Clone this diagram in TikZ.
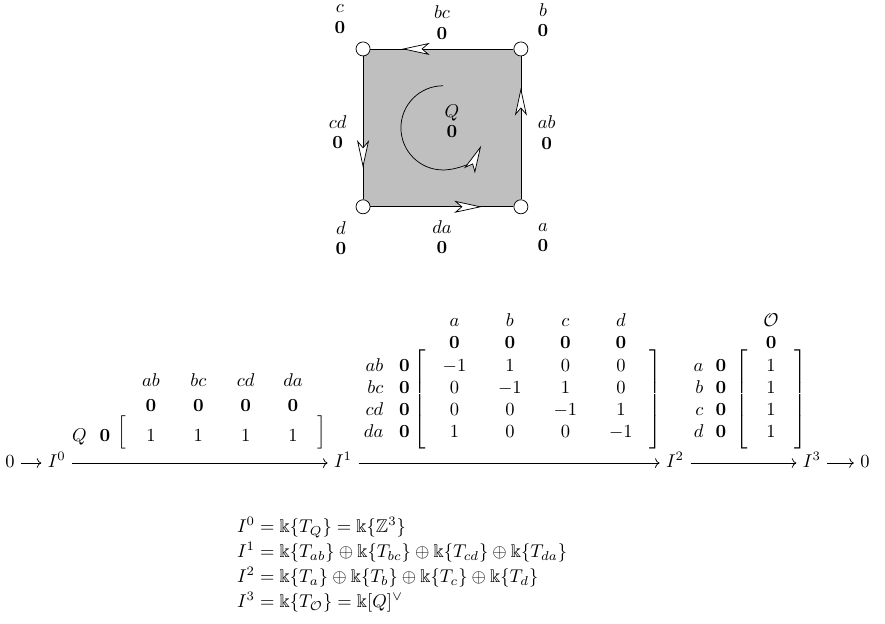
\documentclass[tikz,border=0pt]{standalone}
\usepackage{amsmath,amssymb}
\usetikzlibrary{arrows.meta,decorations.markings,matrix,fit,positioning}

\newcommand{\deglab}[1]{$#1$\\[-1pt]$\mathbf{0}$}

\tikzset{
  vert/.style={circle,draw,fill=white,inner sep=0pt,minimum size=7.6pt},
  wtip/.tip={Stealth[fill=white,length=15pt,width=6.5pt,inset=3.8pt]},
  quiv/.style={postaction={decorate},
    decoration={markings,mark=at position 0.78 with {\arrow{wtip}}}},
  lab/.style={align=center,inner sep=0pt},
  chain/.style={text height=8pt,text depth=3pt},
  mat/.style={matrix of math nodes,inner sep=0pt,row sep=0pt,column sep=0pt,
    nodes={anchor=base,inner xsep=0pt,inner ysep=1pt,text height=7.5pt,
      text depth=2.5pt,minimum width=#1},
    column 1/.style={nodes={anchor=base east,minimum width=0pt}}},
  brk/.style={inner xsep=-1.2pt,inner ysep=#1,
    left delimiter={[},right delimiter={]}}
}

\begin{document}
\begin{tikzpicture}
\useasboundingbox (-8.40,-9.42) rectangle (8.42,2.43);

% the square
\fill[gray!50] (-1.5,-1.5) rectangle (1.5,1.5);
\node[vert] (a) at (1.5,-1.5) {};
\node[vert] (b) at (1.5,1.5) {};
\node[vert] (c) at (-1.5,1.5) {};
\node[vert] (d) at (-1.5,-1.5) {};
\draw[quiv] (a) -- (b);
\draw[quiv] (b) -- (c);
\draw[quiv] (c) -- (d);
\draw[quiv] (d) -- (a);
\draw[-wtip] (0.02,0.8) arc (90:335:0.8);

\node[lab] (la) at (1.92,-2.08) {\deglab{a}};
\node[lab] (lb) at (1.92,2.05) {\deglab{b}};
\node[lab] (lc) at (-1.94,2.07) {\deglab{c}};
\node[lab] (ld) at (-1.92,-2.09) {\deglab{d}};
\node[lab] (lab) at (1.99,-0.09) {\deglab{ab}};
\node[lab] (lbc) at (0.0,2.0) {\deglab{bc}};
\node[lab] (lcd) at (-1.98,-0.08) {\deglab{cd}};
\node[lab] (lda) at (0.0,-2.07) {\deglab{da}};
\node[lab] (lQ) at (0.19,0.13) {\deglab{Q}};

% the complex
\node[chain] (z0) at (-8.21,-6.37) {$0$};
\node[chain] (I0) at (-7.32,-6.37) {$I^0$};
\node[chain] (I1) at (-1.88,-6.37) {$I^1$};
\node[chain] (I2) at (4.43,-6.37) {$I^2$};
\node[chain] (I3) at (7.03,-6.37) {$I^3$};
\node[chain] (z1) at (8.04,-6.37) {$0$};
\draw[->] (z0) -- (I0);
\draw[->] (I0) -- (I1) coordinate[midway] (m01);
\draw[->] (I1) -- (I2) coordinate[midway] (m12);
\draw[->] (I2) -- (I3) coordinate[midway] (m23);
\draw[->] (I3) -- (z1);

\matrix (M0) [mat=25.6pt,above=8pt of m01,xshift=-3pt] {
  &[9pt] ab & bc & cd & da \\[1.5pt]
  &[9pt] \mathbf{0} & \mathbf{0} & \mathbf{0} & \mathbf{0} \\[4pt]
  Q\hspace{7pt}\mathbf{0} &[9pt] 1 & 1 & 1 & 1 \\
};
\node[brk=0.5pt,fit=(M0-3-2)(M0-3-5)] (B0) {};

\matrix (M1) [mat=30pt,above=10pt of m12,xshift=-1.5pt] {
  &[9pt] a & b & c & d \\
  &[9pt] \mathbf{0} & \mathbf{0} & \mathbf{0} & \mathbf{0} \\
  ab\hspace{8.5pt}\mathbf{0} &[9pt] -1 & 1 & 0 & 0 \\
  bc\hspace{8.5pt}\mathbf{0} &[9pt] 0 & -1 & 1 & 0 \\
  cd\hspace{8.5pt}\mathbf{0} &[9pt] 0 & 0 & -1 & 1 \\
  da\hspace{8.5pt}\mathbf{0} &[9pt] 1 & 0 & 0 & -1 \\
};
\node[brk=2.5pt,fit=(M1-3-2)(M1-6-5)] (B1) {};

\matrix (M2) [mat=24pt,above=10pt of m23] {
  &[12pt] \mathcal{O} \\
  &[12pt] \mathbf{0} \\
  a\ \ \mathbf{0} &[12pt] 1 \\
  b\ \ \mathbf{0} &[12pt] 1 \\
  c\ \ \mathbf{0} &[12pt] 1 \\
  d\ \ \mathbf{0} &[12pt] 1 \\
};
\node[brk=2.5pt,fit=(M2-3-2)(M2-6-2)] (B2) {};

\node[align=left,anchor=west,inner sep=0pt] (eqs) at (-3.90,-8.30) {%
  $I^0 = \Bbbk\{T_Q\} = \Bbbk\{\mathbb{Z}^3\}$\\[1.5pt]
  $I^1 = \Bbbk\{T_{ab}\} \oplus \Bbbk\{T_{bc}\} \oplus \Bbbk\{T_{cd}\} \oplus \Bbbk\{T_{da}\}$\\[1.5pt]
  $I^2 = \Bbbk\{T_a\} \oplus \Bbbk\{T_b\} \oplus \Bbbk\{T_c\} \oplus \Bbbk\{T_d\}$\\[1.5pt]
  $I^3 = \Bbbk\{T_{\mathcal{O}}\} = \Bbbk[Q]^\vee$};
\end{tikzpicture}
\end{document}
